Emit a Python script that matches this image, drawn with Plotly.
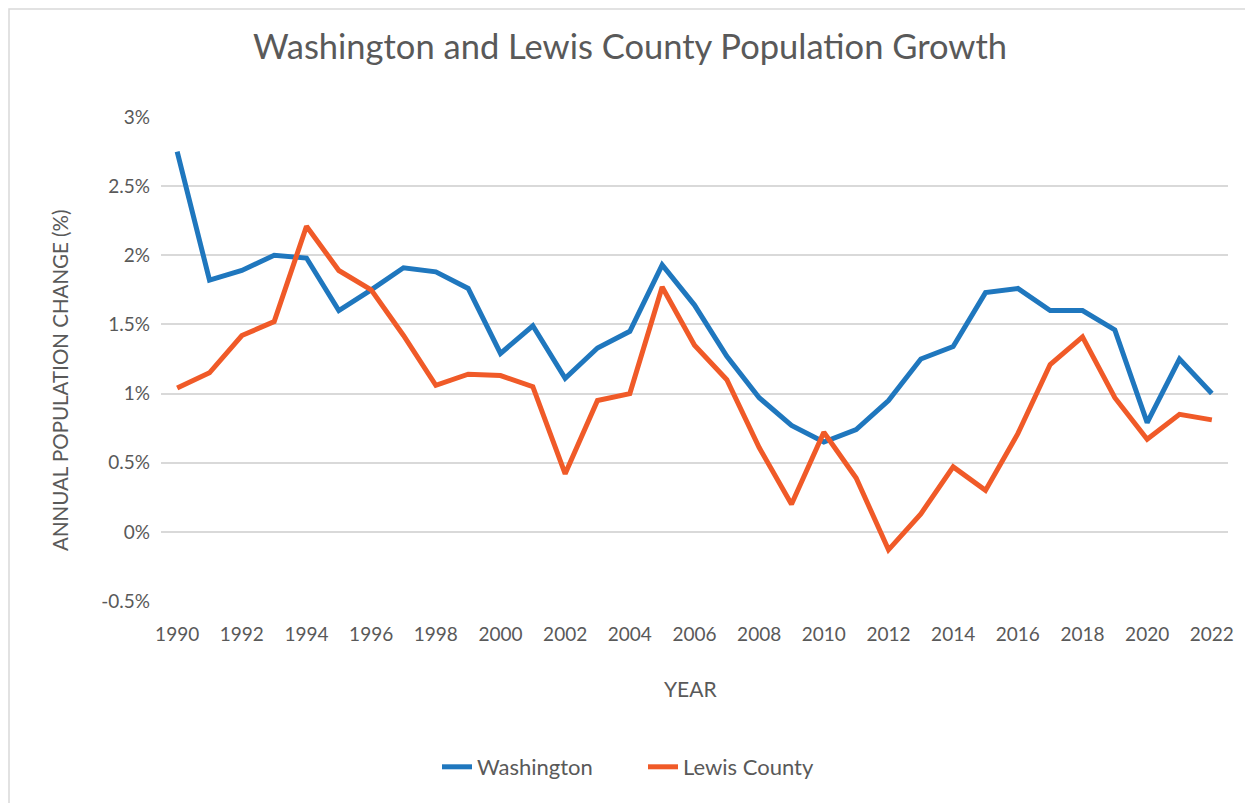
import plotly.graph_objects as go

years = list(range(1990, 2023))
washington = [2.75, 1.82, 1.89, 2.00, 1.98, 1.60, 1.75, 1.91, 1.88, 1.76,
              1.29, 1.49, 1.11, 1.33, 1.45, 1.93, 1.64, 1.27, 0.97, 0.77,
              0.65, 0.74, 0.95, 1.25, 1.34, 1.73, 1.76, 1.60, 1.60, 1.46,
              0.79, 1.25, 1.00]
lewis = [1.04, 1.15, 1.42, 1.52, 2.21, 1.89, 1.75, 1.42, 1.06, 1.14,
         1.13, 1.05, 0.42, 0.95, 1.00, 1.77, 1.35, 1.10, 0.61, 0.20,
         0.72, 0.39, -0.13, 0.13, 0.47, 0.30, 0.71, 1.21, 1.41, 0.97,
         0.67, 0.85, 0.81]
y_ticks = [-0.5, 0, 0.5, 1, 1.5, 2, 2.5, 3]
y_tick_labels = ["-0.5%", "0%", "0.5%", "1%", "1.5%", "2%", "2.5%", "3%"]
x_ticks = list(range(1990, 2023, 2))

FONT = "Lato, 'Open Sans', sans-serif"
TXT = "#595959"

fig = go.Figure()
fig.add_trace(go.Scatter(x=years, y=washington, mode="lines", name="Washington",
                         line=dict(color="#1F77BE", width=5)))
fig.add_trace(go.Scatter(x=years, y=lewis, mode="lines", name="Lewis County",
                         line=dict(color="#F05A28", width=5)))

W, H = 1253, 803
OFF = 8  # page body margin offset
L, T = 161 - OFF, 117 - OFF
pw, ph = 1228 - 161, 601 - 117
R, B = W - L - pw, H - T - ph

def px_x(p):
    return (p - OFF - L) / pw

def px_y(p):
    return (T + ph - (p - OFF)) / ph

fig.update_layout(
    width=W, height=H,
    margin=dict(l=L, r=R, t=T, b=B, autoexpand=False),
    paper_bgcolor="white", plot_bgcolor="white",
    font=dict(family=FONT, color=TXT),
    title=dict(text="Washington and Lewis County Population Growth",
               x=(630 - OFF) / W, xanchor="center", y=1 - (47 - OFF) / H, yanchor="middle",
               font=dict(size=34.5, color=TXT, family=FONT)),
    xaxis=dict(range=[1989.5, 2022.5], tickvals=x_ticks,
               ticktext=[str(t) for t in x_ticks],
               showgrid=False, zeroline=False, showline=False,
               tickfont=dict(size=19, color=TXT), ticks="",
               ticklabelstandoff=20, automargin=False),
    yaxis=dict(range=[-0.5, 3], tickvals=y_ticks, ticktext=y_tick_labels,
               showgrid=True, gridcolor="#D9D9D9", gridwidth=1.5,
               zeroline=False, showline=False, ticks="",
               tickfont=dict(size=19, color=TXT),
               ticklabelstandoff=10, automargin=False),
    legend=dict(orientation="h", xref="container", x=(643 - OFF) / W, xanchor="center",
                y=px_y(767), yanchor="middle", entrywidth=161, entrywidthmode="pixels",
                font=dict(size=22, color=TXT)),
    showlegend=True,
)

fig.add_annotation(text="ANNUAL POPULATION CHANGE (%)", xref="paper", yref="paper",
                   x=px_x(60), y=px_y(380), textangle=-90, showarrow=False,
                   xanchor="center", yanchor="middle",
                   font=dict(size=20.5, color=TXT, family=FONT))
fig.add_annotation(text="YEAR", xref="paper", yref="paper",
                   x=px_x(690), y=px_y(688), showarrow=False,
                   xanchor="center", yanchor="middle",
                   font=dict(size=21, color=TXT, family=FONT))

fig.add_shape(type="rect", xref="paper", yref="paper",
              x0=px_x(9), x1=px_x(1247), y0=px_y(812), y1=px_y(9),
              line=dict(color="#D9D9D9", width=1.5), layer="below")

fig.write_html("out.html")
